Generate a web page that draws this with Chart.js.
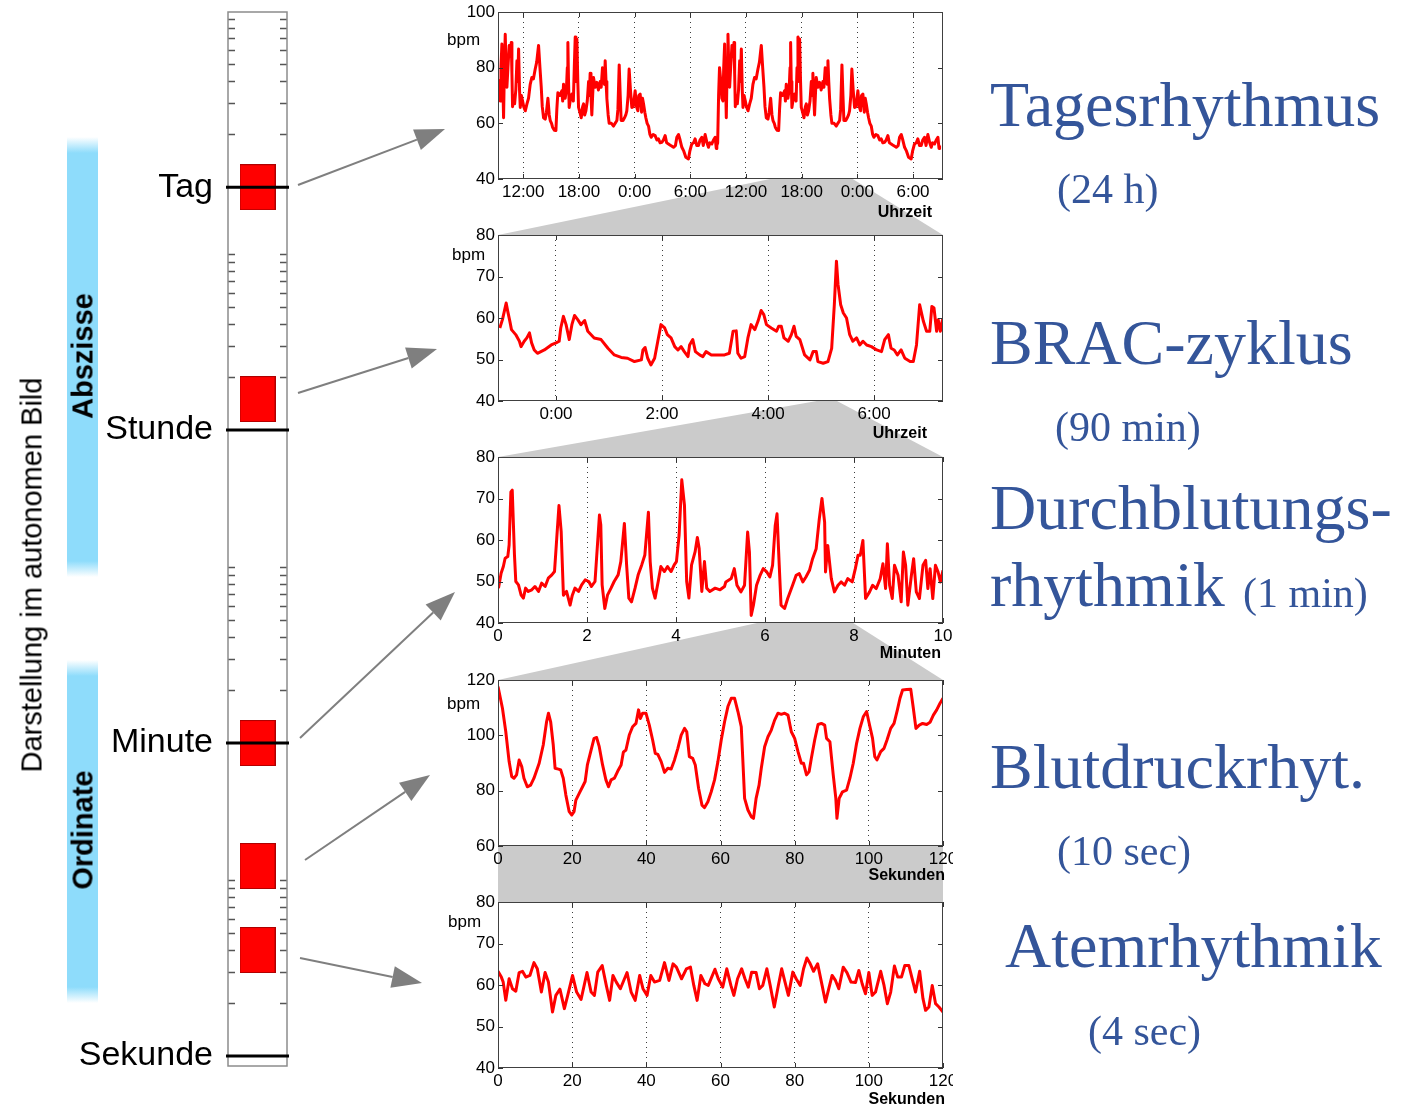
<!DOCTYPE html>
<html lang="de">
<head>
<meta charset="utf-8">
<title>Rhythmen der Herzfrequenz</title>
<script src="https://cdn.jsdelivr.net/npm/chart.js@4.4.1/dist/chart.umd.min.js"></script>
<style>
  html, body { margin: 0; padding: 0; background: #fff; }
  body { position: relative; width: 1402px; height: 1109px; overflow: hidden;
         font-family: "Liberation Sans", Arial, sans-serif; }
  canvas { position: absolute; }
  .bar { position: absolute; left: 67px; width: 31px; }
  .rot { position: absolute; white-space: nowrap; transform: translate(-50%, -50%) rotate(-90deg); color: #000; }
  .lbl { position: absolute; white-space: nowrap; }
</style>
</head>
<body>
<div class="bar" id="barAbs" style="top:137px;height:440px"></div>
<div class="bar" id="barOrd" style="top:660px;height:343px"></div>
<canvas id="links" width="1402" height="1109" style="left:0;top:0"></canvas>
<canvas id="strip" width="240" height="1109" style="left:60px;top:0"></canvas>
<canvas id="p1"></canvas>
<canvas id="p2"></canvas>
<canvas id="p3"></canvas>
<canvas id="p4"></canvas>
<canvas id="p5"></canvas>
<script>
// ---------------- data ----------------
// Tagesrhythmus: one 24 h profile (clock hours), plotted twice (double plot)
const dayHours = [8.95,9.05,9.15,9.27,9.40,9.52,9.60,9.70,9.80,9.88,9.97,10.06,10.15,10.24,10.35,10.49,10.60,10.71,10.78,10.85,
  10.95,11.07,11.20,11.32,11.40,11.50,11.60,11.68,11.80,11.93,12.05,12.22,12.40,12.57,12.75,12.93,13.10,13.29,13.45,13.65,
  13.80,13.94,14.05,14.19,14.37,14.50,14.66,14.80,14.91,15.05,15.16,15.35,15.52,15.62,15.73,15.95,16.16,16.25,16.34,16.45,
  16.52,16.65,16.75,16.81,16.88,16.95,17.10,17.24,17.40,17.50,17.60,17.68,17.78,17.88,17.96,18.10,18.25,18.40,18.50,18.62,
  18.75,18.90,19.04,19.12,19.21,19.30,19.39,19.48,19.57,19.75,19.93,20.10,20.29,20.40,20.54,20.65,20.75,20.83,20.92,21.01,
  21.15,21.26,21.50,21.73,21.90,22.09,22.20,22.34,22.45,22.55,22.75,22.91,23.05,23.16,23.30,23.41,23.55,23.70,23.85,24.06,
  24.20,24.35,24.45,24.60,24.75,24.85,24.96,25.10,25.21,25.35,25.50,25.65,25.78,26.00,26.21,26.40,26.57,26.75,26.93,27.10,
  27.29,27.45,27.65,27.90,28.19,28.40,28.55,28.73,28.90,29.09,29.30,29.52,29.80,29.95,30.16,30.35,30.52,30.70,30.88,31.05,
  31.24,31.40,31.60,31.80,31.96,32.10,32.32,32.50,32.68,32.80,32.86];
const dayBpm = [53,70,80,75.9,69,68,80,88.5,75,62,80,92,80,73,80,88,84,89,78,66,
  70,67,72,82.5,75,86.7,72,65.7,70,68,66,64.5,67,69,74,76.5,76,79.5,82,88,
  80,73,66,62,61.5,64,69,63,61,60,58.6,57.5,57.4,65,71,70,71.7,68,74,70,
  69,72,80,89,75,65.7,69,70.5,68,80,91,75,90.3,75,65.7,64,62,66,67,63,
  64.5,68,75,70,78,70,63,70,76.5,73,74.7,72,75,73,80,76,74,82.5,75,69,
  63,60,60,59,60,61,65,81,70,61,61,62,63,64.5,70,79.5,72,65.7,66,71.7,
  66,64.5,70,70.5,64,69,67,64,62,60,59,56,55,56,55.6,54,54.4,53,53.2,54,
  55.6,53,52.6,52,51.4,52,55,56,54,51.4,50,47.8,47.2,50,52.6,53,54.4,52,52,54,
  55,52,56,53,51.4,53,52.6,54,55,51,52];
const dayCopies = [0, 24];
const dayTicks = [12, 18, 24, 30, 36, 42, 48, 54];

// BRAC-Zyklus: hours relative to midnight
const bracHours = [-1.06,-1.01,-0.94,-0.91,-0.87,-0.84,-0.76,-0.69,-0.66,-0.60,-0.55,-0.50,-0.46,-0.41,-0.35,-0.22,-0.09,0,0.06,0.09,
  0.14,0.19,0.25,0.30,0.35,0.41,0.47,0.54,0.60,0.72,0.85,0.98,1.10,1.23,1.35,1.48,1.61,1.64,1.68,1.73,
  1.79,1.86,1.92,1.98,2.05,2.10,2.17,2.24,2.30,2.36,2.42,2.49,2.52,2.58,2.63,2.71,2.77,2.83,2.93,3.05,
  3.18,3.27,3.34,3.40,3.43,3.49,3.56,3.62,3.68,3.75,3.81,3.87,3.92,3.97,4.06,4.16,4.20,4.25,4.30,4.38,
  4.44,4.49,4.53,4.60,4.69,4.79,4.85,4.91,4.94,5.04,5.13,5.20,5.25,5.29,5.32,5.37,5.42,5.48,5.54,5.60,
  5.67,5.73,5.79,5.86,5.95,6.05,6.14,6.20,6.27,6.32,6.38,6.44,6.51,6.58,6.68,6.74,6.80,6.86,6.93,6.99,
  7.05,7.09,7.13,7.18,7.21,7.25,7.29,7.34];
const bracBpm = [57.6,59.6,63.6,61.6,59.2,57.2,56,54.4,53.1,54.4,55.2,56.4,54,52.3,51.5,52.3,53.5,54,54.4,57.6,
  60.4,58.4,54.8,58.4,60.6,59.6,58.4,59.4,56.8,55.2,54.8,52.7,51.1,50.5,50.3,49.5,49.9,52.3,52.9,50.3,
  48.7,50.3,54.4,58.4,57.6,56,55.2,53.1,52.3,53.1,51.9,50.7,53.5,54.8,51.9,51.1,50.7,51.9,51.1,51.1,
  51.1,51.5,56.8,56.9,51.5,50.3,50.7,55.2,58.4,57.2,59.2,61.8,60.8,58.4,57.6,56.8,58,58,55.2,54.4,
  56,58,55.6,54.8,51.1,49.9,51.9,51.9,49.5,49.1,49.5,52.7,63.2,73.7,68.1,63.2,61.2,60,56,54.4,
  55.2,53.5,54.4,53.5,53.1,52.3,51.9,54.8,56,52.7,52.3,51.1,52.3,50.3,49.5,49.5,53.5,63.2,59.2,56.8,
  56.8,62.8,62.4,56.8,59.6,56.8,59.6,58.4];
const bracTicks = [0, 2, 4, 6];

// Durchblutungsrhythmik: minutes
const flowMin = [0.01,0.07,0.12,0.16,0.22,0.25,0.29,0.32,0.37,0.40,0.46,0.52,0.57,0.62,0.68,0.76,0.83,0.91,0.98,1.06,
  1.13,1.21,1.27,1.32,1.37,1.42,1.47,1.54,1.62,1.67,1.73,1.81,1.88,1.96,2.04,2.10,2.18,2.24,2.28,2.31,
  2.34,2.40,2.46,2.54,2.61,2.70,2.76,2.84,2.89,2.94,3.00,3.08,3.15,3.23,3.30,3.38,3.42,3.47,3.53,3.60,
  3.66,3.74,3.81,3.89,3.96,4.01,4.07,4.13,4.19,4.24,4.29,4.35,4.43,4.48,4.52,4.58,4.64,4.69,4.76,4.88,
  4.99,5.09,5.12,5.24,5.31,5.37,5.46,5.54,5.61,5.65,5.69,5.74,5.81,5.89,5.96,6.04,6.11,6.17,6.23,6.27,
  6.32,6.36,6.44,6.51,6.62,6.70,6.77,6.85,6.92,7.00,7.07,7.15,7.22,7.28,7.34,7.36,7.41,7.49,7.56,7.64,
  7.71,7.79,7.86,7.96,8.03,8.09,8.14,8.20,8.26,8.35,8.42,8.50,8.59,8.65,8.71,8.75,8.80,8.86,8.91,8.99,
  9.06,9.11,9.16,9.21,9.29,9.34,9.40,9.47,9.55,9.61,9.66,9.71,9.77,9.83,9.89,9.94,10.0];
const flowBpm = [48.4,52,53.6,55.6,56,58.8,71.6,72,56.4,50,49.2,46.7,46,48.4,47.6,48,48.8,47.6,49.6,48.8,
  50.8,51.6,52.4,60.4,68.3,62,46.7,47.6,44.3,46.7,48.4,47.6,49.2,50.4,50,48.8,50,59.6,66,63.6,
  49.2,43.5,46.7,48.4,50,51.6,54.8,64,54,46,45.1,48.4,51.6,54,56.4,66.7,54.8,48.4,46,50,
  53.6,52.4,53.6,52.4,54,54.8,61.2,74.5,68.4,50,46,54,57.2,60.6,58,47.6,54.8,48.4,47.6,48.4,
  48,48.8,49.9,50.7,53.1,49.1,47.5,49.1,61.9,57.1,41.8,44.3,49.1,51.5,53.1,52.3,51.1,53.9,63.5,66.3,
  53.9,44.3,43.5,45.9,49.1,51.5,51.9,49.9,51.1,52.7,55.5,57.9,65.1,70,64.3,52.3,58.7,50.7,47.5,49.1,
  49.9,49.1,50.7,49.9,53.1,56.3,56.3,59.9,45.9,47.5,49.1,48.3,50.7,54.3,48.3,59.1,49.1,45.9,53.9,51.5,
  45.1,57.1,53.9,44.3,51.5,55.5,47.5,45.9,53.9,55.1,48.3,53.1,45.9,53.9,52.3,49.9,52.7];
const minuteTicks = [0, 2, 4, 6, 8, 10];

// Blutdruckrhythmik: seconds
const pressureSec = [0,1.2,2.1,3.0,3.7,4.3,5.0,5.7,6.4,7.0,7.9,8.8,9.7,11.1,12.2,13.1,13.6,14.2,14.9,15.4,
  16.3,16.9,17.6,18.3,19.2,19.9,20.5,21.0,21.9,22.8,23.5,24.1,25.0,25.9,26.6,27.3,28.2,29.1,29.8,30.5,
  31.4,32.3,33.2,33.8,34.5,35.4,36.3,37.2,37.9,38.4,39.0,39.9,40.8,41.7,42.4,43.1,44.0,44.9,45.8,46.7,
  47.6,48.5,49.4,50.3,50.9,51.6,52.5,53.2,54.1,55.0,55.7,56.6,57.5,58.4,59.3,60.2,61.1,62.0,62.9,63.8,
  64.7,65.6,66.0,66.5,67.4,68.3,68.9,69.6,70.4,71.0,71.9,72.8,73.7,74.6,75.5,76.4,77.3,78.2,79.1,80.0,
  80.9,81.8,82.4,83.2,83.9,84.5,85.4,86.3,87.2,88.1,88.6,89.5,90.4,91.1,91.4,92.0,92.9,94.0,94.9,95.8,
  96.7,97.6,98.5,99.4,100.3,101.0,101.6,102.2,103.2,104.1,104.9,105.9,106.8,107.7,108.4,109.1,110.2,111.3,112.0,112.7,
  113.6,114.5,115.6,116.5,117.4,118.3,119.2,120];
const pressureBpm = [117.6,109.8,101.3,90.5,85.1,84.5,85.7,91.1,88.7,84.5,81.4,82,84.5,89.9,96.5,104.9,108,104.9,96.5,88.1,
  87.8,87.5,84.5,78.4,72.4,71.2,72.4,76.6,79,81.4,83.3,89.3,94.1,98.9,99.2,95.9,89.3,83.9,81.4,83.9,
  84.5,87.1,89.3,93.9,94.7,100.1,103.1,104.3,109.2,106.1,108,108,103.7,98.3,93.5,93.1,90.5,86.6,88.1,87.8,
  91.1,95.3,100.1,102.5,101.3,92.3,91.7,89.3,80.8,74.8,73.9,76,79.6,83.9,90.5,98.3,104.9,110.4,113.4,113.4,
  108.6,103.1,91.7,77.2,73,70.6,70,77.2,82,88.1,95.9,99.5,101.9,105.5,108,107.6,108,107.3,101.3,98.9,
  94.1,89.9,89.9,85.7,86.9,91.7,98.3,103.9,104.3,103.7,98.9,97.7,85.7,77.2,70,77.2,79.6,80.2,84.5,89.9,
  97.1,102.5,106.7,108.6,103.1,98.9,92.3,91.1,94.1,95.3,98.3,102.5,104.3,109.2,113.4,116.4,116.6,116.7,109.8,102.5,
  103.7,104.3,103.9,104.7,107.3,109.2,111.6,113.4];

// Atemrhythmik: seconds
const breathSec = [0,0.9,1.4,2.1,3.0,3.9,4.8,5.7,6.6,7.5,8.6,9.7,10.6,11.7,12.7,13.6,14.7,15.6,16.7,17.9,
  18.8,20.1,21.2,22.4,24.0,25.1,26.0,26.9,28.1,29.2,30.1,31.0,31.9,33.0,34.8,35.9,37.0,38.2,39.1,40.2,
  41.2,42.2,43.6,44.9,46.1,47.2,48.1,49.5,50.8,51.9,52.8,53.7,54.7,55.8,56.7,58.5,59.4,60.6,61.7,62.8,
  63.6,64.6,65.7,66.6,67.5,68.4,69.6,70.5,71.4,72.5,73.4,74.5,75.6,76.5,77.4,78.3,79.5,80.4,81.5,82.4,
  83.3,84.2,85.1,86.2,87.4,88.3,89.2,90.1,91.0,91.9,93.1,94.1,95.2,96.4,97.3,98.2,99.1,100.0,100.9,101.8,
  103.2,104.1,105.0,105.9,106.9,107.8,108.8,109.7,110.8,111.7,112.6,113.7,114.6,115.3,116.2,117.1,118.0,118.9,120];
const breathBpm = [63.3,61.9,60.7,56.3,61.5,59.1,58.5,63,63.3,61.9,62.3,65.4,63.9,58.3,63,60.7,53.5,57.5,59,54.3,
  57.5,62.3,58.3,56.5,63,58.3,57.5,63.1,64.7,59.9,56.3,62.3,60.7,59.1,63,58.3,56.3,62.3,59.1,57.5,
  62.3,60.7,61.1,65.4,61.1,65.1,64.3,61.5,63.9,64.3,59.9,56.3,62.3,60.3,59.9,63.8,61.5,59.5,63.9,59.9,
  57.5,61.5,63.9,61.5,59.5,63.1,63,59.1,59.9,63.9,59.9,54.7,59.9,63.9,60.7,57.5,63.1,61.5,59.9,63.9,
  66.5,65.1,63.3,65.1,59.9,55.9,59.1,62.3,61.1,59.1,64.3,63,60.7,60.6,63.5,60.3,57.9,63,57.5,58.3,
  63.3,59.9,55.5,58.3,64.6,61.9,61.9,64.7,64.7,61.5,58.3,63.3,56.7,53.9,54.7,59.9,55.5,54.7,53.5];
const secondTicks = [0, 20, 40, 60, 80, 100, 120];

const bpmTicksDay = [40, 60, 80, 100];
const bpmTicksLow = [40, 50, 60, 70, 80];
const bpmTicksHigh = [60, 80, 100, 120];

// zoomed section of each panel shown in the next panel (in that panel's x units)
const zoomWindows = [[38.6, 47.5], [4.92, 5.30], [5.82, 7.98], [0, 120]];

// period scale (seconds, logarithmic)
const periodLabels = ['Sekunde', 'Minute', 'Stunde', 'Tag'];
const periodSeconds = [1, 60, 3600, 86400];
const minorSeconds = [2, 3, 4, 5, 6, 7, 8, 9, 10];
const minorMinutes = [2, 3, 4, 5, 6, 7, 8, 9, 10];
const minorHours = [2, 3, 4, 5, 6, 7, 8, 9, 10];
const minorDays = [2, 3, 4, 5, 6, 7, 8, 9];
const rhythmPeriodSec = [86400, 5400, 60, 12, 4];

// ---------------- text ----------------
const titles = [
  { text: 'Tagesrhythmus', x: 990, base: 127, size: 64 },
  { text: '(24 h)', x: 1057, base: 203, size: 42 },
  { text: 'BRAC-zyklus', x: 990, base: 365, size: 64 },
  { text: '(90 min)', x: 1055, base: 441, size: 42 },
  { text: 'Durchblutungs-', x: 990, base: 530, size: 64 },
  { text: 'rhythmik', x: 990, base: 607, size: 64 },
  { text: '(1 min)', x: 1243, base: 607, size: 42 },
  { text: 'Blutdruckrhyt.', x: 990, base: 789, size: 64 },
  { text: '(10 sec)', x: 1057, base: 865, size: 42 },
  { text: 'Atemrhythmik', x: 1005, base: 968, size: 64 },
  { text: '(4 sec)', x: 1088, base: 1045, size: 42 }
];
const TITLE_COLOR = '#34559a';
const SANS = '"Liberation Sans", Arial, sans-serif';

titles.forEach(t => {
  const d = document.createElement('div');
  d.className = 'lbl';
  d.textContent = t.text;
  d.style.cssText += `left:${t.x}px;top:${t.base - 0.8375 * t.size}px;font:${t.size}px "Liberation Serif","Times New Roman",serif;line-height:${t.size}px;color:${TITLE_COLOR};z-index:3`;
  document.body.appendChild(d);
});

function rotated(text, cx, cy, font) {
  const d = document.createElement('div');
  d.className = 'rot';
  d.textContent = text;
  d.style.cssText += `left:${cx}px;top:${cy}px;font:${font};z-index:3`;
  document.body.appendChild(d);
}
rotated('Darstellung im autonomen Bild', 32, 575, '29px ' + SANS);
rotated('Abszisse', 83, 356, 'bold 29px ' + SANS);
rotated('Ordinate', 83, 830, 'bold 29px ' + SANS);

const barFill = 'linear-gradient(to bottom, rgba(142,221,251,0) 0px, #8edcfb 16px, #8edcfb calc(100% - 16px), rgba(142,221,251,0) 100%)';
document.getElementById('barAbs').style.background = barFill;
document.getElementById('barOrd').style.background = barFill;

// ---------------- panels ----------------
const framePlugin = {
  id: 'panelFrame',
  beforeDraw(chart) {
    const a = chart.chartArea, c = chart.ctx;
    c.save();
    c.fillStyle = '#fff';
    c.fillRect(a.left, a.top, a.right - a.left, a.bottom - a.top);
    c.restore();
  },
  afterDraw(chart, args, opts) {
    const { ctx, chartArea: a } = chart;
    const x = chart.scales.x, y = chart.scales.y;
    ctx.save();
    ctx.strokeStyle = '#333';
    ctx.lineWidth = 1;
    ctx.beginPath();
    x.ticks.forEach(t => {
      const px = Math.round(x.getPixelForValue(t.value)) + 0.5;
      ctx.moveTo(px, a.bottom); ctx.lineTo(px, a.bottom - 5);
      ctx.moveTo(px, a.top); ctx.lineTo(px, a.top + 5);
    });
    y.ticks.forEach(t => {
      const py = Math.round(y.getPixelForValue(t.value)) + 0.5;
      ctx.moveTo(a.left, py); ctx.lineTo(a.left + 5, py);
      ctx.moveTo(a.right, py); ctx.lineTo(a.right - 5, py);
    });
    ctx.stroke();
    ctx.strokeStyle = '#404040';
    ctx.strokeRect(Math.round(a.left) + 0.5, Math.round(a.top) + 0.5,
                   Math.round(a.right - a.left) - 1, Math.round(a.bottom - a.top) - 1);
    ctx.fillStyle = '#000';
    ctx.textBaseline = 'middle';
    if (opts.unit) {
      ctx.font = '17px ' + SANS;
      ctx.textAlign = 'left';
      ctx.fillText(opts.unit, a.left + opts.unitDx, a.top + opts.unitDy);
    }
    if (opts.axisTitle) {
      ctx.font = 'bold 16px ' + SANS;
      ctx.textAlign = 'right';
      ctx.fillText(opts.axisTitle, a.right + opts.titleDx, a.bottom + opts.titleDy);
    }
    ctx.restore();
  }
};

function points(xs, ys) { return xs.map((v, i) => ({ x: v, y: ys[i] })); }

const dayPoints = [];
dayCopies.forEach(off => dayHours.forEach((h, i) => dayPoints.push({ x: h + off, y: dayBpm[i] })));

const panels = [
  { id: 'p1', plotTop: 12, plotH: 167, xAxisH: 46, xMin: 9.28, xMax: 57.23, xTicks: dayTicks,
    xFmt: v => (v % 24) + ':00', yMin: 40, yMax: 100, yTicks: bpmTicksDay,
    xTitle: { text: 'Uhrzeit', dx: -11, dy: 34 }, unit: { dx: -51, dy: 28 }, data: dayPoints },
  { id: 'p2', plotTop: 235, plotH: 166, xAxisH: 46, xMin: -1.094, xMax: 7.30, xTicks: bracTicks,
    xFmt: v => v + ':00', yMin: 40, yMax: 80, yTicks: bpmTicksLow,
    xTitle: { text: 'Uhrzeit', dx: -16, dy: 33 }, unit: { dx: -46, dy: 20 }, data: points(bracHours, bracBpm) },
  { id: 'p3', plotTop: 457, plotH: 166, xAxisH: 46, xMin: 0, xMax: 10, xTicks: minuteTicks,
    xFmt: v => String(v), yMin: 40, yMax: 80, yTicks: bpmTicksLow,
    xTitle: { text: 'Minuten', dx: -2, dy: 31 }, unit: null, data: points(flowMin, flowBpm) },
  { id: 'p4', plotTop: 680, plotH: 166, xAxisH: 46, xMin: 0, xMax: 120, xTicks: secondTicks,
    xFmt: v => String(v), yMin: 60, yMax: 120, yTicks: bpmTicksHigh,
    xTitle: { text: 'Sekunden', dx: 2, dy: 30 }, unit: { dx: -51, dy: 24 }, data: points(pressureSec, pressureBpm) },
  { id: 'p5', plotTop: 902, plotH: 166, xAxisH: 41, xMin: 0, xMax: 120, xTicks: secondTicks,
    xFmt: v => String(v), yMin: 40, yMax: 80, yTicks: bpmTicksLow,
    xTitle: { text: 'Sekunden', dx: 2, dy: 32 }, unit: { dx: -50, dy: 20 }, data: points(breathSec, breathBpm) }
];

const PANEL_LEFT = 440, PANEL_W = 513, Y_AXIS_W = 58, PAD_TOP = 12, PAD_RIGHT = 10;

const charts = panels.map(p => {
  const cv = document.getElementById(p.id);
  cv.width = PANEL_W;
  cv.height = PAD_TOP + p.plotH + p.xAxisH;
  cv.style.left = PANEL_LEFT + 'px';
  cv.style.top = (p.plotTop - PAD_TOP) + 'px';
  cv.style.zIndex = 2;
  const frameOpts = { axisTitle: p.xTitle.text, titleDx: p.xTitle.dx, titleDy: p.xTitle.dy };
  if (p.unit) Object.assign(frameOpts, { unit: 'bpm', unitDx: p.unit.dx, unitDy: p.unit.dy });
  return new Chart(cv, {
    type: 'line',
    data: { datasets: [{ data: p.data, borderColor: '#ff0000', borderWidth: 3,
                         pointRadius: 0, tension: 0, fill: false, borderJoinStyle: 'round' }] },
    options: {
      responsive: false, animation: false, devicePixelRatio: 1, events: [],
      layout: { autoPadding: false, padding: { top: PAD_TOP, right: PAD_RIGHT, left: 0, bottom: 0 } },
      plugins: { legend: { display: false }, tooltip: { enabled: false }, panelFrame: frameOpts },
      scales: {
        x: {
          type: 'linear', min: p.xMin, max: p.xMax, bounds: 'data',
          afterBuildTicks: s => { s.ticks = p.xTicks.map(v => ({ value: v })); },
          afterFit: s => { s.height = p.xAxisH; s.paddingLeft = 0; s.paddingRight = 0; },
          ticks: { callback: v => p.xFmt(v), color: '#000', padding: 3, maxRotation: 0, autoSkip: false,
                   font: { family: SANS, size: 17 } },
          grid: { drawTicks: false, lineWidth: 1,
                  color: c => (c.tick && (c.tick.value <= p.xMin || c.tick.value >= p.xMax)) ? 'rgba(0,0,0,0)' : '#3c3c3c' },
          border: { display: false, dash: [1, 4] }
        },
        y: {
          type: 'linear', min: p.yMin, max: p.yMax, bounds: 'data',
          afterBuildTicks: s => { s.ticks = p.yTicks.map(v => ({ value: v })); },
          afterFit: s => { s.width = Y_AXIS_W; s.paddingTop = 0; s.paddingBottom = 0; },
          ticks: { color: '#000', padding: 3, font: { family: SANS, size: 17 } },
          grid: { display: false, drawTicks: false },
          border: { display: false }
        }
      }
    },
    plugins: [framePlugin]
  });
});

// ---------------- period strip ----------------
const boxImg = document.createElement('canvas');
boxImg.width = 36; boxImg.height = 46;
(() => {
  const c = boxImg.getContext('2d');
  c.fillStyle = '#ff0000';
  c.fillRect(0, 0, 36, 46);
  c.strokeStyle = 'rgba(110,0,0,0.55)';
  c.lineWidth = 1;
  c.strokeRect(0.5, 0.5, 35, 45);
})();

const minorTickSec = [].concat(
  minorSeconds, minorMinutes.map(m => m * 60), minorHours.map(h => h * 3600), minorDays.map(d => d * 86400));

const stripPlugin = {
  id: 'periodStrip',
  afterDatasetsDraw(chart) {
    const { ctx, chartArea: a } = chart;
    const y = chart.scales.y;
    ctx.save();
    ctx.strokeStyle = '#555';
    ctx.lineWidth = 1.5;
    ctx.beginPath();
    minorTickSec.forEach(v => {
      const py = Math.round(y.getPixelForValue(v)) + 0.5;
      ctx.moveTo(a.left, py); ctx.lineTo(a.left + 7, py);
      ctx.moveTo(a.right, py); ctx.lineTo(a.right - 7, py);
    });
    ctx.stroke();
    ctx.strokeStyle = '#8c8c8c';
    ctx.lineWidth = 1.5;
    ctx.strokeRect(a.left, a.top, a.right - a.left, a.bottom - a.top);
    ctx.strokeStyle = '#000';
    ctx.lineWidth = 3;
    ctx.beginPath();
    periodSeconds.forEach(v => {
      const py = y.getPixelForValue(v);
      ctx.moveTo(a.left - 2, py); ctx.lineTo(a.right + 2, py);
    });
    ctx.stroke();
    ctx.restore();
  }
};

const stripCanvas = document.getElementById('strip');
stripCanvas.style.zIndex = 2;
const strip = new Chart(stripCanvas, {
  type: 'scatter',
  data: { datasets: [{ data: rhythmPeriodSec.map(s => ({ x: 0.5, y: s })), pointStyle: boxImg, pointRadius: 1 }] },
  options: {
    responsive: false, animation: false, devicePixelRatio: 1, events: [],
    layout: { autoPadding: false, padding: { top: 12, bottom: 43, left: 0, right: 13 } },
    plugins: { legend: { display: false }, tooltip: { enabled: false } },
    scales: {
      x: { type: 'linear', min: 0, max: 1, display: false },
      y: {
        type: 'logarithmic', min: 0.877, max: 855000, bounds: 'data',
        afterBuildTicks: s => { s.ticks = periodSeconds.map(v => ({ value: v })); },
        afterFit: s => { s.width = 168; s.paddingTop = 0; s.paddingBottom = 0; },
        ticks: { callback: v => periodLabels[periodSeconds.indexOf(v)] || '', color: '#000', padding: 15,
                 font: { family: SANS, size: 34 } },
        grid: { display: false, drawTicks: false },
        border: { display: false }
      }
    }
  },
  plugins: [stripPlugin]
});

// ---------------- zoom connectors and arrows ----------------
const links = document.getElementById('links').getContext('2d');
links.fillStyle = '#cbcbcb';
zoomWindows.forEach((w, i) => {
  const parent = charts[i], child = charts[i + 1];
  const pTop = panels[i].plotTop - PAD_TOP, cTop = panels[i + 1].plotTop - PAD_TOP;
  const pa = parent.chartArea, ca = child.chartArea;
  const x0 = PANEL_LEFT + parent.scales.x.getPixelForValue(w[0]);
  const x1 = PANEL_LEFT + parent.scales.x.getPixelForValue(w[1]);
  links.beginPath();
  links.moveTo(x0, pTop + pa.bottom);
  links.lineTo(x1, pTop + pa.bottom);
  links.lineTo(PANEL_LEFT + ca.right, cTop + ca.top);
  links.lineTo(PANEL_LEFT + ca.left, cTop + ca.top);
  links.closePath();
  links.fill();
});

const arrowPaths = [[298, 185, 445, 129], [298, 393, 437, 349], [300, 738, 455, 592], [305, 860, 430, 775], [300, 958, 422, 983]];
links.fillStyle = '#7f7f7f';
links.strokeStyle = '#7f7f7f';
links.lineWidth = 2;
arrowPaths.forEach(([x1, y1, x2, y2]) => {
  const ang = Math.atan2(y2 - y1, x2 - x1);
  const len = 30, half = 11;
  const bx = x2 - len * Math.cos(ang), by = y2 - len * Math.sin(ang);
  links.beginPath();
  links.moveTo(x1, y1);
  links.lineTo(bx, by);
  links.stroke();
  links.beginPath();
  links.moveTo(x2, y2);
  links.lineTo(bx + half * Math.sin(ang), by - half * Math.cos(ang));
  links.lineTo(bx - half * Math.sin(ang), by + half * Math.cos(ang));
  links.closePath();
  links.fill();
});
</script>
</body>
</html>
